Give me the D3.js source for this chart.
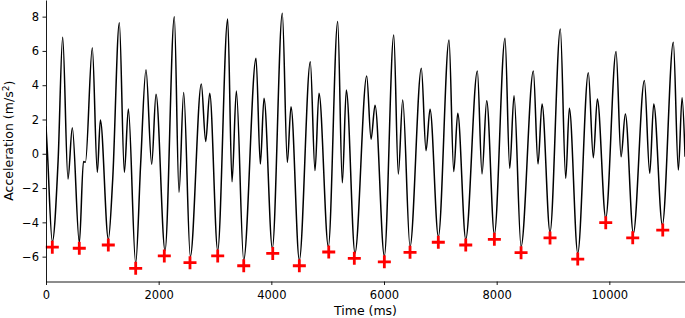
<!DOCTYPE html>
<html>
<head>
<meta charset="utf-8">
<script src="https://cdn.jsdelivr.net/npm/d3@7"></script>
<style>
  body { margin: 0; background: #fff; }
  svg { display: block; font-family: "DejaVu Sans", sans-serif; }
</style>
</head>
<body>
<div id="container"></div>
<script>
// signal turning points (time in ms, acceleration in m/s^2)
const signalTime = [0, 25, 112, 215, 296, 390, 467, 592, 665, 700, 822, 911, 965, 1107, 1184, 1302, 1391, 1462, 1592, 1680,
  1775, 1876, 1953, 2113, 2278, 2361, 2444, 2562, 2757, 2835, 2906, 3048, 3225, 3302, 3379, 3509, 3728, 3805, 3870, 4018,
  4195, 4284, 4349, 4497, 4692, 4775, 4846, 5012, 5178, 5260, 5331, 5485, 5693, 5770, 5841, 6006, 6173, 6254, 6332, 6462,
  6663, 6746, 6817, 6965, 7154, 7238, 7309, 7451, 7657, 7740, 7823, 7959, 8148, 8232, 8308, 8433, 8651, 8734, 8805, 8947,
  9130, 9226, 9290, 9439, 9627, 9716, 9787, 9936, 10119, 10208, 10284, 10426, 10622, 10717, 10788, 10941, 11136, 11225, 11291, 11344]
const signalAccel = [1.6, 0.1, -5.13, -0.4, 6.8, -1.47, 1.52, -5.19, -0.45, -0.5, 6.19, -1.08, 1.97, -4.99, -1.5, 7.65, -1.08, 2.61, -6.39, -0.6,
  4.9, -0.61, 3.47, -5.65, 8.0, -2.25, 3.57, -6.0, 4.07, 0.71, 3.53, -5.65, 7.86, -1.63, 3.66, -6.2, 5.57, -0.6, 3.24, -5.51,
  8.2, -0.5, 2.75, -6.2, 5.37, -0.98, 3.53, -5.42, 7.71, -1.69, 3.72, -5.8, 4.54, 0.85, 2.83, -5.96, 6.93, -1.18, 3.14, -5.42,
  4.99, 0.18, 2.6, -4.84, 6.64, -1.04, 2.36, -4.99, 4.83, -1.18, 3.1, -4.7, 6.74, -0.85, 3.39, -5.42, 4.83, -0.6, 2.91, -4.58,
  7.28, -1.43, 2.65, -5.8, 4.73, -0.23, 3.2, -3.76, 5.96, -0.17, 2.32, -4.64, 4.27, -1.14, 2.91, -4.15, 6.5, -0.95, 3.27, -0.17]

// detected minima (red crosses)
const minTime = [112, 591, 1106, 1592, 2100, 2556, 3048, 3510, 4025, 4497, 5019, 5473, 6006, 6462, 6964, 7451, 7959, 8433, 8947, 9439, 9936, 10415, 10948]
const minAccel = [-5.45, -5.51, -5.32, -6.68, -5.96, -6.35, -5.96, -6.53, -5.81, -6.53, -5.73, -6.1, -6.3, -5.75, -5.16, -5.32, -4.99, -5.77, -4.91, -6.14, -4.02, -4.9, -4.45]

const xTicks = [0, 2000, 4000, 6000, 8000, 10000]
const yTicks = [-6, -4, -2, 0, 2, 4, 6, 8]

const W = 685, H = 318
const margin = {top: 0, right: 0, bottom: 36.5, left: 46}
const width = W - margin.left - margin.right
const height = H - margin.top - margin.bottom

const signal = signalTime.map((t, i) => ({t: t, a: signalAccel[i]}))
const minima = minTime.map((t, i) => ({t: t, a: minAccel[i]}))

const svg = d3.select("#container")
  .append("svg")
    .attr("width", W)
    .attr("height", H)
  .append("g")
    .attr("transform", "translate(" + margin.left + "," + margin.top + ")")

const xScale = d3.scaleLinear().domain([0, 11343]).range([0, width])
const yScale = d3.scaleLinear().domain([-7.45, 8.97]).range([height, 0])

svg.append("clipPath").attr("id", "clip")
  .append("rect").attr("width", width).attr("height", height + 10).attr("y", -10)

svg.append("path")
    .datum(signal)
    .attr("clip-path", "url(#clip)")
    .attr("fill", "none")
    .attr("stroke", "#000")
    .attr("stroke-width", 1.5)
    .attr("d", d3.line()
      .x(d => xScale(d.t))
      .y(d => yScale(d.a))
      .curve(d3.curveMonotoneX))

svg.selectAll("path.cross")
    .data(minima)
    .enter()
    .append("path")
    .attr("class", "cross")
    .attr("transform", d => "translate(" + xScale(d.t) + "," + yScale(d.a) + ")")
    .attr("d", "M-6.5,0H6.5M0,-6.5V6.5")
    .attr("stroke", "#ff0000")
    .attr("stroke-width", 2.8)
    .attr("fill", "none")

const fmt = d => d < 0 ? "\u2212" + Math.abs(d) : String(d)

const xAxis = svg.append("g")
    .attr("transform", "translate(0," + height + ")")
    .call(d3.axisBottom(xScale).tickValues(xTicks).tickFormat(fmt).tickSize(3.5).tickPadding(6).tickSizeOuter(0))
const yAxis = svg.append("g")
    .call(d3.axisLeft(yScale).tickValues(yTicks).tickFormat(fmt).tickSize(3.5).tickPadding(3.5).tickSizeOuter(0))

for (const ax of [xAxis, yAxis]) {
  ax.selectAll("text").style("font-size", "11.5px").attr("fill", "#000").style("font-family", "DejaVu Sans")
  ax.selectAll("line").attr("stroke", "#000").attr("stroke-width", 0.9)
  ax.select(".domain").attr("stroke", "#000").attr("stroke-width", 0.9)
}

svg.append("text")
    .attr("text-anchor", "middle")
    .style("font-size", "12.5px")
    .attr("x", width / 2)
    .attr("y", height + 33.5)
    .text("Time (ms)")

const yl = svg.append("text")
    .attr("text-anchor", "middle")
    .attr("transform", "rotate(-90)")
    .style("font-size", "12.5px")
    .attr("x", -height / 2)
    .attr("y", -margin.left + 13)
yl.append("tspan").text("Acceleration (m/s")
yl.append("tspan").attr("dy", "-0.4em").style("font-size", "9px").text("2")
yl.append("tspan").attr("dy", "0.4em").text(")")
</script>
</body>
</html>
